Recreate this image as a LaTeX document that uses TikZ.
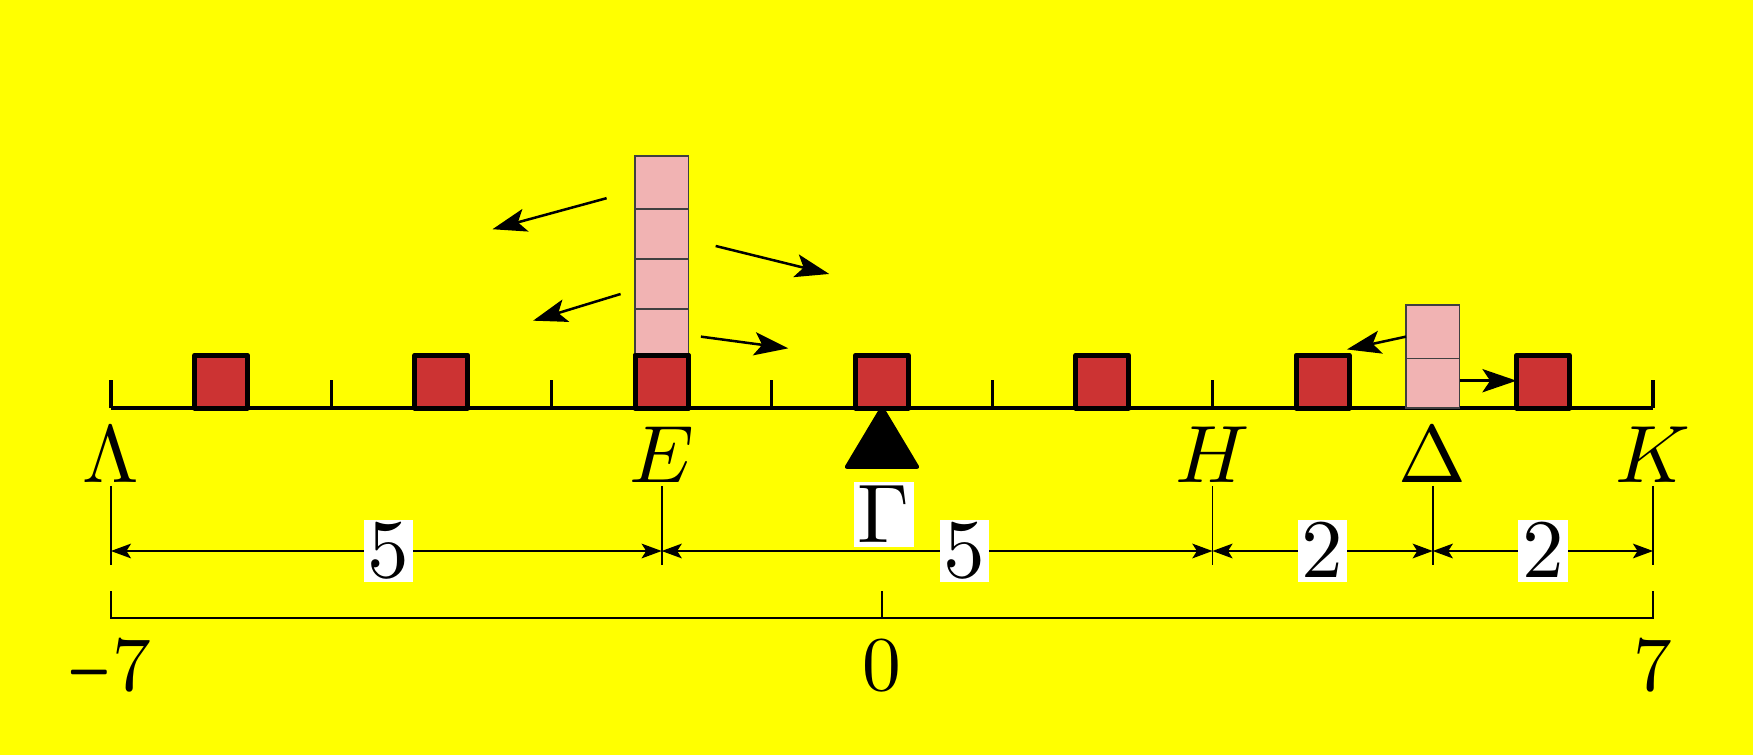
\RequirePackage{fix-cm}
\documentclass[tikz,border=0pt]{standalone}
\usetikzlibrary{arrows.meta}
\definecolor{bgyellow}{RGB}{255,255,0}
\definecolor{redsq}{RGB}{204,51,51}
\definecolor{pinkbox}{RGB}{241,179,179}
\tikzset{
  redbox/.style={draw=black, line width=1.3pt, fill=redsq, line join=round, minimum width=0.48cm, minimum height=0.48cm, inner sep=0pt, outer sep=0pt, anchor=south},
  pinkcell/.style={draw=black!75, line width=0.4pt, fill=pinkbox, minimum width=0.484cm, inner sep=0pt, outer sep=0pt, anchor=south},
  bigarrow/.style={line width=0.65pt, -{Stealth[length=8.8pt,width=6pt,inset=2pt]}},
  dimarrow/.style={line width=0.45pt, {Stealth[length=5.2pt,width=3.8pt,inset=1.2pt]}-{Stealth[length=5.2pt,width=3.8pt,inset=1.2pt]}},
  thinline/.style={line width=0.45pt},
  axisline/.style={line width=0.85pt},
  lbl/.style={font=\fontsize{10.5}{12.5}\selectfont, scale=2, inner sep=0pt, anchor=base},
  numlbl/.style={font=\fontsize{10}{12}\selectfont, scale=2, inner sep=0pt, anchor=base},
  valbox/.style={font=\fontsize{10.75}{13}\selectfont, scale=2, fill=white, inner sep=0.5pt},
}
\begin{document}
\begin{tikzpicture}
\fill[bgyellow] (-8.007,-3.150) rectangle (7.907,3.704);
\useasboundingbox (-8.007,-3.150) rectangle (7.907,3.704);

% axis
\draw[axisline] (-7,0) -- (7,0);
\foreach \t in {-7,-5,-3,-1,1,3,5,7} \draw[axisline] (\t,0) -- (\t,0.25);

% red squares
\foreach \i/\x in {1/-6,2/-4,3/-2,4/0,5/2,6/4,7/6}
  \node[redbox] (r\i) at (\x,0) {};

% pink stack at E
\node[pinkcell, minimum height=0.42cm]  (pe1) at (-2,0.48) {};
\node[pinkcell, minimum height=0.455cm] (pe2) at (pe1.north) {};
\node[pinkcell, minimum height=0.45cm]  (pe3) at (pe2.north) {};
\node[pinkcell, minimum height=0.484cm] (pe4) at (pe3.north) {};
\node[redbox] (r3b) at (-2,0) {};

% pink stack at Delta
\node[pinkcell, minimum height=0.45cm]  (pd1) at (5,0) {};
\node[pinkcell, minimum height=0.485cm] (pd2) at (pd1.north) {};

% arrows around the stacks
\coordinate (a1s) at (-2.50,1.905);  \coordinate (a1e) at (-3.536,1.623);
\coordinate (a2s) at (-1.51,1.471);  \coordinate (a2e) at (-0.479,1.217);
\coordinate (a3s) at (-2.373,1.035); \coordinate (a3e) at (-3.167,0.793);
\coordinate (a4s) at (-1.644,0.648); \coordinate (a4e) at (-0.851,0.542);
\draw[bigarrow] (a1s) -- (a1e);
\draw[bigarrow] (a2s) -- (a2e);
\draw[bigarrow] (a3s) -- (a3e);
\draw[bigarrow] (a4s) -- (a4e);
\coordinate (b1s) at (4.757,0.648);
\coordinate (b1e) at (4.221,0.532);
\coordinate (b2s) at (5.244,0.248);
\coordinate (b2e) at (5.76,0.248);
\draw[bigarrow] (b1s) -- (b1e);
\draw[bigarrow] (b2s) -- (b2e);

% fulcrum
\coordinate (tapex) at (0,0);
\coordinate (tl) at (-0.32,-0.535);
\coordinate (tr) at (0.32,-0.535);
\filldraw[line width=1pt, line join=round] (tapex) -- (tr) -- (tl) -- cycle;
\node[valbox] (gam) at (0.015,-0.967) {$\Gamma$};

% point labels
\node[lbl] (lL) at (-7,-0.674) {$\Lambda$};
\node[lbl] (lE) at (-2,-0.674) {$E$};
\node[lbl] (lH) at (3,-0.674) {$H$};
\node[lbl] (lD) at (5,-0.674) {$\Delta$};
\node[lbl] (lK) at (7,-0.674) {$K$};

% extension lines
\foreach \n/\x in {L/-7,E/-2,H/3,D/5,K/7}{
  \coordinate (t\n) at (\x,-0.706);
  \coordinate (b\n) at (\x,-1.426);
  \coordinate (d\n) at (\x,-1.298);
  \draw[thinline] (t\n) -- (b\n);
}

% dimension arrows
\draw[dimarrow] (dL) -- (dE) node[valbox, pos=0.504] (v1) {$5$};
\draw[dimarrow] (dE) -- (dH) node[valbox, pos=0.55] (v2) {$5$};
\draw[dimarrow] (dH) -- (dD) node[valbox, midway] (v3) {$2$};
\draw[dimarrow] (dD) -- (dK) node[valbox, midway] (v4) {$2$};

% bracket
\coordinate (kl) at (-7,-1.662); \coordinate (kl2) at (-7,-1.907);
\coordinate (km) at (0,-1.662);  \coordinate (km2) at (0,-1.907);
\coordinate (kr) at (7,-1.662);  \coordinate (kr2) at (7,-1.907);
\draw[thinline] (kl) -- (kl2) -- (kr2) -- (kr);
\draw[thinline] (km) -- (km2);

% scale numbers
\node[numlbl] (nm7) at (-7.02,-2.565) {$\raisebox{-0.14em}{\scalebox{0.76}[1.5]{$-$}}7$};
\node[numlbl] (n0) at (0,-2.565) {$0$};
\node[numlbl] (n7) at (7,-2.565) {$7$};
\end{tikzpicture}
\end{document}
